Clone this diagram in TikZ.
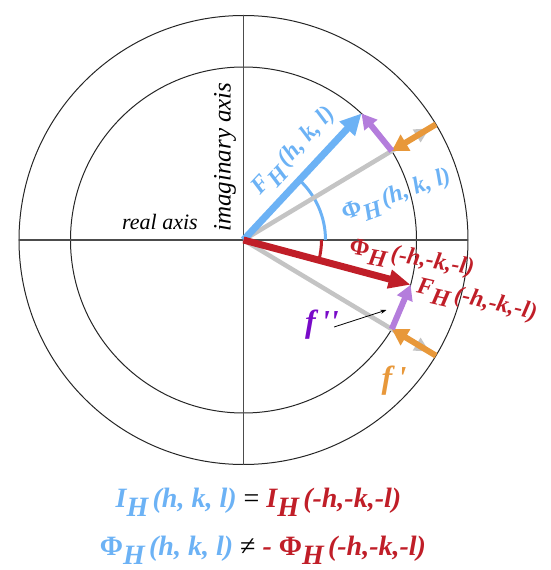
\documentclass[tikz,border=0pt]{standalone}
\usepackage{fontspec}
\setmainfont{Liberation Serif}
\usetikzlibrary{arrows.meta}

\definecolor{fblue}{RGB}{108,178,245}
\definecolor{fred}{RGB}{192,30,40}
\definecolor{fpurple}{RGB}{180,125,220}
\definecolor{fviolet}{RGB}{120,10,200}
\definecolor{forange}{RGB}{232,152,58}
\definecolor{fgray}{RGB}{196,196,196}

\newcommand{\subH}{\raisebox{-0.33em}{H}\kern0.15em}
\newcommand{\Phiup}{{\upshape Φ}}

\begin{document}
\begin{tikzpicture}[x=1pt,y=1pt,
  ringline/.style={line width=1pt,black!85},
  axisline/.style={line width=1.4pt,black!70},
  bluearrow/.style={line width=7pt,fblue,-{Triangle[length=21pt,width=20pt]}},
  redarrow/.style={line width=7pt,fred,-{Triangle[length=22pt,width=18pt]}},
  grayarrow/.style={line width=4.5pt,fgray,-{Triangle[length=15pt,width=14pt]}},
  orangearrow/.style={line width=6pt,forange,-{Triangle[length=16pt,width=18pt]}},
  purplearrow/.style={line width=6pt,fpurple,-{Triangle[length=15pt,width=16pt]}},
  pointer/.style={line width=0.8pt,black,-{Stealth[length=6pt,width=4pt]}},
  lab/.style={font=\fontsize{24}{24}\selectfont\bfseries\itshape,inner sep=0pt},
  flab/.style={font=\fontsize{32}{32}\selectfont\bfseries\itshape,inner sep=0pt},
  axlab/.style={font=\fontsize{22}{22}\selectfont\itshape,inner sep=0pt},
  eq/.style={font=\fontsize{28}{28}\selectfont\bfseries\itshape,inner sep=0pt,anchor=base}]
\useasboundingbox (-243.5,-330) rectangle (306.5,240);

% rings and axes
\coordinate (O) at (0,0);
\draw[ringline] (O) circle (224.5);
\draw[ringline] (O) circle (173);
\draw[axisline] (-224.5,0) -- (224.5,0);
\draw[axisline] (0,-224.5) -- (0,224.5);
\node[axlab] (realax) at (-83.5,18) {real axis};
\node[axlab,rotate=90,font=\fontsize{25}{25}\selectfont\itshape] (imagax) at (-18.5,83) {imaginary axis};

% end points on the rings
\coordinate (Fp) at (47:173);
\coordinate (Fm) at (-15:173);
\coordinate (Gp) at (31:217);
\coordinate (Gm) at (-31:217);
\coordinate (Op) at (31:224.5);
\coordinate (Ip) at (31:173);
\coordinate (Om) at (-31:224.5);
\coordinate (Im) at (-31:173);

% phase angles
\draw[line width=3pt,fblue] (82,0) arc[start angle=0,end angle=47,radius=82];
\draw[line width=3pt,fred] (78,0) arc[start angle=0,end angle=-15,radius=78];

% structure factors
\draw[grayarrow] (O) -- (Gp);
\draw[grayarrow] (O) -- (Gm);
\draw[orangearrow] (Op) -- (Ip);
\draw[orangearrow] (Om) -- (Im);
\draw[purplearrow] (Ip) -- (Fp);
\draw[purplearrow] (Im) -- (Fm);
\draw[bluearrow] (O) -- (Fp);
\draw[redarrow] (O) -- (Fm);

% labels
\node[lab,fblue,rotate=47] (Fplab) at (51.5,88) {F\subH(h, k, l)};
\node[lab,fblue,rotate=20] (Pplab) at (153.5,43) {\Phiup\subH(h, k, l)};
\node[lab,fred,rotate=-10] (Pmlab) at (168,-20) {\Phiup\subH(-h,-k,-l)};
\node[lab,fred,rotate=-13] (Fmlab) at (233,-62) {F\subH(-h,-k,-l)};
\node[flab,fviolet] (fpp) at (78.5,-85) {f\,\textquotesingle\textquotesingle};
\node[flab,forange] (fp) at (150.5,-141) {f\,\textquotesingle};
\coordinate (fppTip) at (143,-70);
\draw[pointer] ([xshift=-5pt,yshift=-2pt]fpp.east) -- (fppTip);

% relations
\node[eq] (eq1) at (15,-267) {{\color{fblue}I\subH(h, k, l)} {\mdseries\upshape =} {\color{fred}I\subH(-h,-k,-l)}};
\node[eq] (eq2) at (19.5,-315) {{\color{fblue}\Phiup\subH(h, k, l)} {\mdseries\upshape ≠} {\color{fred}- \Phiup\subH(-h,-k,-l)}};
\end{tikzpicture}
\end{document}
